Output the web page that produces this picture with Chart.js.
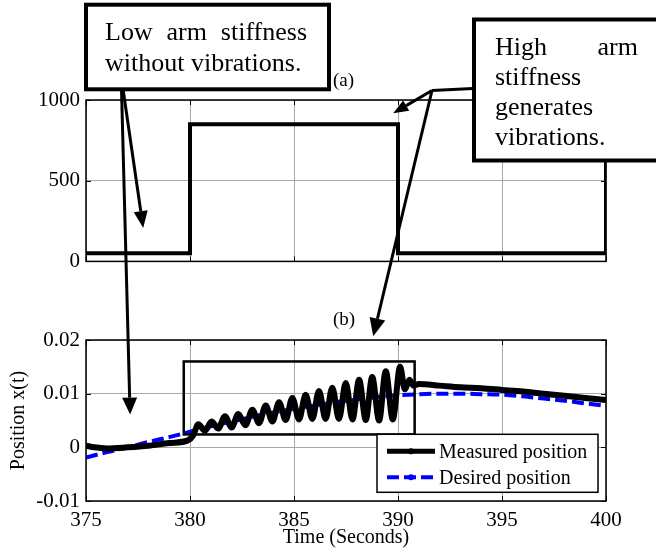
<!DOCTYPE html>
<html><head><meta charset="utf-8">
<script src="https://cdn.jsdelivr.net/npm/chart.js@4.4.0/dist/chart.umd.min.js"></script>
<style>
html,body{margin:0;padding:0;background:#fff;}
#wrap{position:relative;width:656px;height:554px;overflow:hidden;background:#fff;}
canvas{position:absolute;left:0;}
#c1{top:0;} #c2{top:280px;} #ov{top:0;pointer-events:none;}
</style></head><body>
<div id="wrap">
<canvas id="c1" width="656" height="280"></canvas>
<canvas id="c2" width="656" height="274"></canvas>
<canvas id="ov" width="656" height="554"></canvas>
</div>
<script>
// ---------- data ----------
const timeTicks = [375, 380, 385, 390, 395, 400];
const stiffTicks = [0, 500, 1000];
const posTicks = [-0.01, 0, 0.01, 0.02];

const stiffTime  = [375, 380, 390, 400];
const stiffValue = [50, 850, 50, 850];

const measuredTime = [375.0, 375.4, 376.0, 377.0, 378.0, 379.0, 379.9, 380.15,
  380.40, 380.72, 381.04, 381.36, 381.68, 382.00, 382.32, 382.66, 383.00, 383.32,
  383.64, 383.96, 384.28, 384.60, 384.92, 385.24, 385.56, 385.88, 386.20, 386.52,
  386.84, 387.16, 387.49, 387.81, 388.13, 388.45, 388.76, 389.09, 389.41, 389.75,
  390.10, 390.33, 390.55, 390.75, 391, 392, 393, 394, 395, 396, 397, 398, 399, 400];
const measuredValue = [0.0003, 0.0000, -0.0002, 0.0000, 0.0003, 0.0008, 0.0013, 0.0022,
  0.0043, 0.0031, 0.0048, 0.0035, 0.0058, 0.0037, 0.0062, 0.0041, 0.0070, 0.0045,
  0.0078, 0.0048, 0.0084, 0.0051, 0.0092, 0.0052, 0.0098, 0.0053, 0.0105, 0.0053,
  0.0111, 0.0053, 0.0120, 0.0052, 0.0126, 0.0051, 0.0131, 0.0050, 0.0142, 0.0052,
  0.0150, 0.0108, 0.0126, 0.0115, 0.0118, 0.0115, 0.0112, 0.0110, 0.0107, 0.0104,
  0.0100, 0.0096, 0.0092, 0.0088];

const desiredTime = [375, 376, 377, 378, 379, 380, 381, 382, 383, 384, 385, 386, 387,
  388, 389, 390, 391, 392, 393, 394, 395, 396, 397, 398, 399, 400];
const desiredValue = [-0.0019, -0.0009, 0.0000, 0.0010, 0.0019, 0.0029, 0.0039, 0.0048,
  0.0057, 0.0065, 0.0072, 0.0078, 0.0084, 0.0089, 0.0094, 0.0097, 0.0099, 0.0100,
  0.0100, 0.0099, 0.0098, 0.0095, 0.0091, 0.0087, 0.0082, 0.0077];

// zoom rectangle (data space) in panel (b)
const zoomBoxT = [379.7, 390.8];
const zoomBoxV = [0.0024, 0.016];

// ---------- style ----------
const FONT = "'Liberation Serif','Times New Roman',serif";
const GRID = '#a8a8a8';
Chart.defaults.font.family = FONT;
Chart.defaults.color = '#000';

const framePlugin = {
  id: 'frame',
  afterDraw(chart) {
    const { ctx, chartArea: a, scales } = chart;
    ctx.save();
    ctx.strokeStyle = '#000';
    ctx.lineWidth = 1.5;
    ctx.strokeRect(a.left, a.top, a.right - a.left, a.bottom - a.top);
    // inward tick marks on all four sides
    ctx.lineWidth = 1;
    const tl = 5;
    ctx.beginPath();
    scales.x.ticks.forEach(t => {
      const px = Math.round(scales.x.getPixelForValue(t.value)) + 0.5;
      ctx.moveTo(px, a.bottom); ctx.lineTo(px, a.bottom - tl);
      ctx.moveTo(px, a.top); ctx.lineTo(px, a.top + tl);
    });
    scales.y.ticks.forEach(t => {
      const py = Math.round(scales.y.getPixelForValue(t.value)) + 0.5;
      ctx.moveTo(a.left, py); ctx.lineTo(a.left + tl, py);
      ctx.moveTo(a.right, py); ctx.lineTo(a.right - tl, py);
    });
    ctx.stroke();
    ctx.restore();
  }
};

const pts = (xs, ys) => xs.map((x, i) => ({ x, y: ys[i] }));

// ---------- top chart (a) ----------
const c1 = new Chart(document.getElementById('c1'), {
  type: 'line',
  data: { datasets: [{
    label: 'Arm stiffness',
    data: pts(stiffTime, stiffValue),
    stepped: true,
    borderColor: '#000', borderWidth: 4, pointRadius: 0, fill: false
  }]},
  options: {
    responsive: false, animation: false,
    layout: { padding: { left: 0, top: 100, right: 50, bottom: 17 } },
    plugins: { legend: { display: false }, tooltip: { enabled: false } },
    scales: {
      x: {
        type: 'linear', min: 375, max: 400,
        afterBuildTicks: s => { s.ticks = timeTicks.map(v => ({ value: v })); },
        ticks: { display: false },
        grid: { color: GRID, lineWidth: 1, drawTicks: false },
        border: { display: false },
        afterFit: s => { s.height = 0; }
      },
      y: {
        min: 0, max: 1000,
        afterBuildTicks: s => { s.ticks = stiffTicks.map(v => ({ value: v })); },
        ticks: { font: { size: 21 }, color: '#000', padding: 6, callback: v => String(v) },
        grid: { color: GRID, lineWidth: 1, drawTicks: false },
        border: { display: false },
        afterFit: s => { s.width = 86; }
      }
    }
  },
  plugins: [framePlugin]
});

// ---------- bottom chart (b) ----------
const annotPlugin = {
  id: 'annot',
  afterDraw(chart) {
    const { ctx, chartArea: a, scales } = chart;
    ctx.save();
    // zoom rectangle
    const x0 = scales.x.getPixelForValue(zoomBoxT[0]);
    const x1 = scales.x.getPixelForValue(zoomBoxT[1]);
    const y0 = scales.y.getPixelForValue(zoomBoxV[1]);
    const y1 = scales.y.getPixelForValue(zoomBoxV[0]);
    ctx.strokeStyle = '#000'; ctx.lineWidth = 2.5;
    ctx.strokeRect(x0, y0, x1 - x0, y1 - y0);
    // legend
    const w = 221, h = 58;
    const lx = a.right - 8 - w, ly = a.bottom - 8.7 - h;
    ctx.fillStyle = '#fff'; ctx.fillRect(lx, ly, w, h);
    ctx.lineWidth = 1.5; ctx.strokeRect(lx, ly, w, h);
    ctx.font = '20px ' + FONT; ctx.textBaseline = 'middle'; ctx.fillStyle = '#000';
    chart.data.datasets.forEach((ds, i) => {
      const ry = ly + 17 + i * 26;
      ctx.save();
      ctx.strokeStyle = ds.borderColor; ctx.lineWidth = Math.min(ds.borderWidth, 5);
      ctx.setLineDash(ds.borderDash || []);
      ctx.beginPath(); ctx.moveTo(lx + 10, ry); ctx.lineTo(lx + 58, ry); ctx.stroke();
      ctx.fillStyle = ds.borderColor;
      ctx.beginPath(); ctx.arc(lx + 34, ry, 3, 0, Math.PI * 2); ctx.fill();
      ctx.restore();
      ctx.fillText(ds.label, lx + 62, ry + 1);
    });
    ctx.restore();
  }
};

const c2 = new Chart(document.getElementById('c2'), {
  type: 'line',
  data: { datasets: [
    { label: 'Measured position', data: pts(measuredTime, measuredValue),
      borderColor: '#000', borderWidth: 6, pointRadius: 0, fill: false,
      cubicInterpolationMode: 'monotone' },
    { label: 'Desired position', data: pts(desiredTime, desiredValue),
      borderColor: '#0000ff', borderWidth: 4, borderDash: [12, 5], pointRadius: 0, fill: false,
      cubicInterpolationMode: 'monotone' }
  ]},
  options: {
    responsive: false, animation: false,
    layout: { padding: { left: 0, top: 60, right: 50, bottom: 0 } },
    plugins: { legend: { display: false }, tooltip: { enabled: false } },
    scales: {
      x: {
        type: 'linear', min: 375, max: 400,
        afterBuildTicks: s => { s.ticks = timeTicks.map(v => ({ value: v })); },
        ticks: { font: { size: 21 }, color: '#000', padding: 7, maxRotation: 0 },
        grid: { color: GRID, lineWidth: 1, drawTicks: false },
        border: { display: false },
        title: { display: true, text: 'Time (Seconds)', font: { size: 20 }, color: '#000', padding: { top: 0, bottom: 4 } },
        afterFit: s => { s.height = 53; }
      },
      y: {
        min: -0.01, max: 0.02,
        afterBuildTicks: s => { s.ticks = posTicks.map(v => ({ value: v })); },
        ticks: { font: { size: 21 }, color: '#000', padding: 6,
          callback: v => (Math.abs(v) < 1e-9 ? '0' : String(+v.toFixed(2))) },
        grid: { color: GRID, lineWidth: 1, drawTicks: false },
        border: { display: false },
        title: { display: true, text: 'Position x(t)', font: { size: 20 }, color: '#000', padding: { top: 7, bottom: 0 } },
        afterFit: s => { s.width = 86; }
      }
    }
  },
  plugins: [framePlugin, annotPlugin]
});

// ---------- overlay annotations ----------
const OFF2 = 280;
const ov = document.getElementById('ov');
const g = ov.getContext('2d');
const topPt = (t, v) => [c1.scales.x.getPixelForValue(t), c1.scales.y.getPixelForValue(v)];
const botPt = (t, v) => [c2.scales.x.getPixelForValue(t), OFF2 + c2.scales.y.getPixelForValue(v)];

function arrow(from, to, len, half) {
  const dx = to[0] - from[0], dy = to[1] - from[1];
  const d = Math.hypot(dx, dy), ux = dx / d, uy = dy / d;
  const bx = to[0] - ux * len, by = to[1] - uy * len;
  g.beginPath(); g.moveTo(from[0], from[1]); g.lineTo(bx, by); g.stroke();
  g.beginPath();
  g.moveTo(to[0], to[1]);
  g.lineTo(bx - uy * half, by + ux * half);
  g.lineTo(bx + uy * half, by - ux * half);
  g.closePath(); g.fill();
}
function box(x, y, w, h) {
  g.fillStyle = '#fff'; g.fillRect(x, y, w, h);
  g.lineWidth = 4; g.strokeStyle = '#000'; g.strokeRect(x, y, w, h);
}
function justify(words, left, right, base) {
  const ws = words.map(w => g.measureText(w).width);
  const gap = (right - left - ws.reduce((a, b) => a + b, 0)) / (words.length - 1);
  let x = left;
  words.forEach((w, i) => { g.fillText(w, x, base); x += ws[i] + gap; });
}

g.strokeStyle = '#000'; g.fillStyle = '#000'; g.lineWidth = 3; g.lineCap = 'butt';
// arrows from box 1
arrow([123, 89], topPt(377.75, 207), 17, 7);
arrow([121.5, 89], botPt(377.12, 0.0061), 17, 7.5);
// arrows from box 2
g.beginPath(); g.moveTo(473, 88.5); g.lineTo(432, 90.5); g.stroke();
arrow([432, 90.5], topPt(389.77, 918), 15, 6);
arrow([432, 90.5], botPt(388.81, 0.0207), 18, 8);

// boxes
box(86, 4.7, 243, 84.6);
box(474, 19.5, 200, 141);

g.fillStyle = '#000';
g.textBaseline = 'alphabetic';
g.font = '26px ' + FONT;
justify(['Low', 'arm', 'stiffness'], 105, 307, 40);
g.fillText('without vibrations.', 105, 71);
justify(['High', 'arm'], 495, 638, 54.5);
g.fillText('stiffness', 495, 85);
g.fillText('generates', 495, 114.5);
g.fillText('vibrations.', 495, 145);

g.font = '19px ' + FONT;
g.fillText('(a)', 333, 86);
g.fillText('(b)', 333, 325);
</script>
</body></html>
